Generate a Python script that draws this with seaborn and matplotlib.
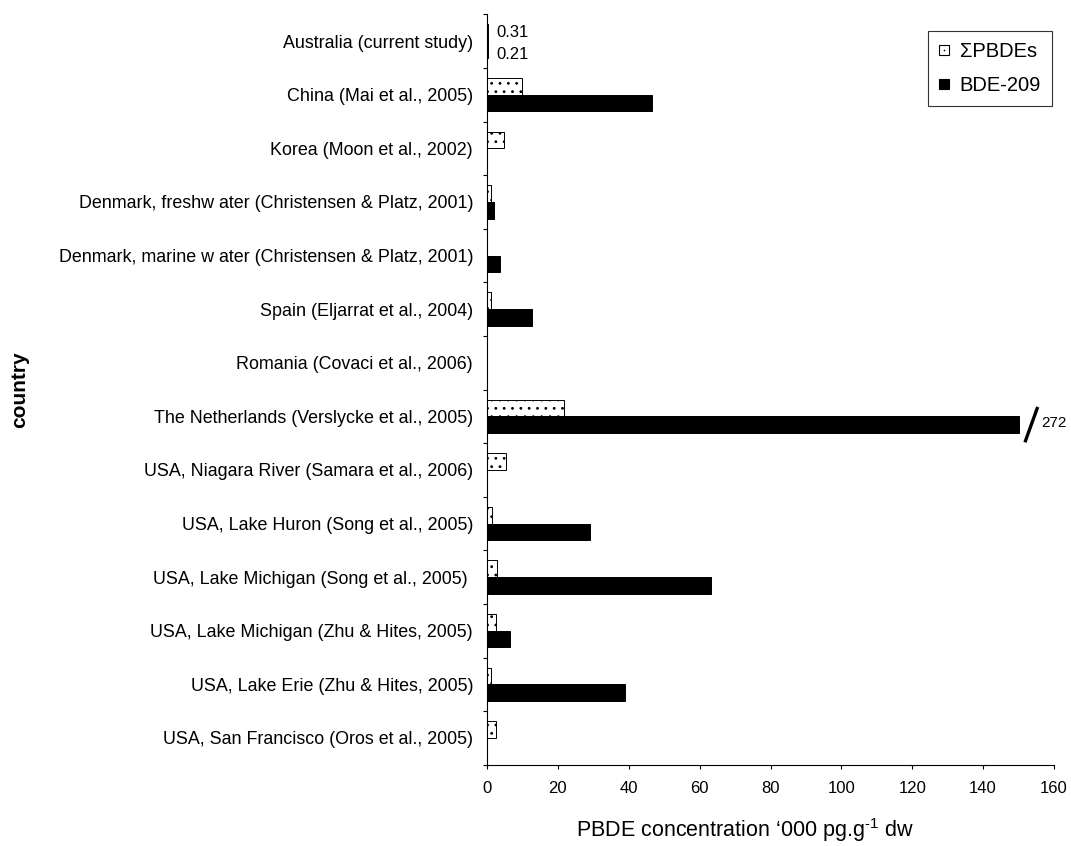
import numpy as np
import pandas as pd
import matplotlib
matplotlib.use("Agg")
import matplotlib.pyplot as plt
from matplotlib.lines import Line2D
from matplotlib.legend_handler import HandlerTuple
import seaborn as sns

# Studies, top to bottom
studies = [
    "Australia (current study)",
    "China (Mai et al., 2005)",
    "Korea (Moon et al., 2002)",
    "Denmark, freshw ater (Christensen & Platz, 2001)",
    "Denmark, marine w ater (Christensen & Platz, 2001)",
    "Spain (Eljarrat et al., 2004)",
    "Romania (Covaci et al., 2006)",
    "The Netherlands (Verslycke et al., 2005)",
    "USA, Niagara River (Samara et al., 2006)",
    "USA, Lake Huron (Song et al., 2005)",
    "USA, Lake Michigan (Song et al., 2005) ",
    "USA, Lake Michigan (Zhu & Hites, 2005)",
    "USA, Lake Erie (Zhu & Hites, 2005)",
    "USA, San Francisco (Oros et al., 2005)",
]

# Concentrations, '000 pg/g dw
sum_pbdes = [0.31, 10.0, 4.9, 1.1, 0.0, 1.0, 0.0, 21.8, 5.3, 1.5, 2.9, 2.4, 1.0, 2.5]
bde_209 = [0.21, 46.6, 0.0, 2.0, 3.6, 12.6, 0.0, 272, 0.0, 29.2, 63.2, 6.4, 39.0, 0.0]

series_names = ["\u03a3PBDEs", "BDE-209"]
x_ticks = [0, 20, 40, 60, 80, 100, 120, 140, 160]
axis_break = 150  # bars longer than this are cut and labelled

sns.set_style("ticks")
plt.rcParams["font.family"] = ["Liberation Sans", "DejaVu Sans"]
plt.rcParams["mathtext.fontset"] = "custom"
plt.rcParams["mathtext.rm"] = "Liberation Sans"
plt.rcParams["mathtext.it"] = "Liberation Sans:italic"
plt.rcParams["hatch.linewidth"] = 0.8
plt.rcParams["text.color"] = "black"
plt.rcParams["axes.labelcolor"] = "black"

df = pd.DataFrame({
    "study": studies * 2,
    "value": sum_pbdes + bde_209,
    "series": [series_names[0]] * len(studies) + [series_names[1]] * len(studies),
})
df["shown"] = np.minimum(df["value"], axis_break)

fig = plt.figure(figsize=(10.71, 8.46), dpi=100)
ax = fig.add_axes([487 / 1071, 1 - 764.7 / 846, 567 / 1071, 750.4 / 846])

sns.barplot(
    data=df, x="shown", y="study", hue="series",
    order=studies, hue_order=series_names, orient="h",
    palette=["white", "black"], width=0.62, edgecolor="black",
    linewidth=0.7, errorbar=None, legend=False, ax=ax, saturation=1,
)

# dotted fill for the sum series
for patch in ax.containers[0]:
    patch.set_hatch("..")

ax.set_xlim(0, 160)
ax.set_xticks(x_ticks)
ax.set_xticklabels([str(t) for t in x_ticks])
ax.tick_params(axis="x", direction="out", length=3, width=0.8, pad=9,
               labelsize=12, color="black", labelcolor="black")

# category ticks sit between the studies
n = len(studies)
ax.set_yticks(np.arange(n))
ax.set_yticks(np.arange(-0.5, n, 1.0), minor=True)
ax.tick_params(axis="y", which="major", length=0, pad=10, labelsize=12.9,
               labelcolor="black")
ax.tick_params(axis="y", which="minor", direction="out", length=3, width=0.8,
               color="black")
ax.set_ylim(n - 0.5, -0.5)

for side in ("top", "right"):
    ax.spines[side].set_visible(False)
for side in ("left", "bottom"):
    ax.spines[side].set_color("black")
    ax.spines[side].set_linewidth(0.8)

ax.set_ylabel("country", fontsize=15, fontweight="bold")
ax.yaxis.label.set_verticalalignment("center")
ax.yaxis.set_label_coords((20 - 487) / 567, 0.5)
ax.set_xlabel("PBDE concentration \u2018000 pg.g$^{\\text{-}1}$ dw", fontsize=15.5)
ax.xaxis.label.set_verticalalignment("center")
ax.xaxis.set_label_coords(0.455, -0.087)

# small values at the top are written out
idx0 = 0
for cont, vals, dy in ((ax.containers[0], sum_pbdes, 0), (ax.containers[1], bde_209, -4)):
    p = cont.patches[idx0]
    ax.annotate(f"{vals[idx0]:.2f}", xy=(p.get_width(), p.get_y() + p.get_height() / 2),
                xytext=(6, dy), textcoords="offset points",
                ha="left", va="center", fontsize=12)

# broken bar: slash at the cut and the true value
for cont, vals in ((ax.containers[1], bde_209),):
    for i, v in enumerate(vals):
        if v > axis_break:
            p = cont.patches[i]
            yc = p.get_y() + p.get_height() / 2
            ax.plot([axis_break + 1.8, axis_break + 5.4], [yc + 0.33, yc - 0.33],
                    color="black", lw=2.4, clip_on=False, solid_capstyle="butt")
            ax.text(axis_break + 6.4, yc - 0.03, f"{v:g}", ha="left", va="center",
                    fontsize=11, clip_on=False)

# legend
handles = [
    (Line2D([], [], ls="", marker="s", ms=6.7, mfc="white", mec="black", mew=0.8),
     Line2D([], [], ls="", marker="o", ms=1.2, mfc="black", mec="black", mew=0)),
    Line2D([], [], ls="", marker="s", ms=6.7, mfc="black", mec="black", mew=0.8),
]
leg = fig.legend(handles, series_names, loc="upper right",
                 bbox_to_anchor=(1052 / 1071, 1 - 31 / 846), borderaxespad=0,
                 fontsize=14.5, frameon=True, fancybox=False, handlelength=0.5,
                 handletextpad=0.5, labelspacing=0.75, borderpad=0.55,
                 handler_map={tuple: HandlerTuple(ndivide=1)})
leg.get_frame().set_edgecolor("black")
leg.get_frame().set_linewidth(0.8)

fig.savefig("out.png", dpi=100, facecolor="white")
